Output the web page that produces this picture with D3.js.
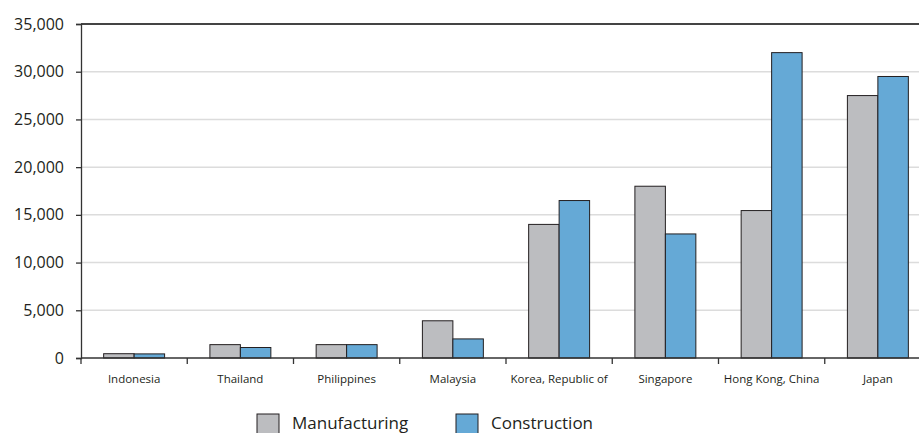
<!DOCTYPE html>
<html><head><meta charset="utf-8">
<script src="https://cdn.jsdelivr.net/npm/d3@7"></script>
<style>body{margin:0;background:#fff;} svg{display:block;}</style>
</head><body>
<svg id="chart" width="919" height="433"></svg>
<script>
const categories = ["Indonesia","Thailand","Philippines","Malaysia","Korea, Republic of","Singapore","Hong Kong, China","Japan"];
const seriesNames = ["Manufacturing","Construction"];
const manufacturing = [450,1400,1400,3900,14000,18000,15450,27500];
const construction = [430,1100,1400,2000,16500,13000,32000,29500];
const yTicks = [0,5000,10000,15000,20000,25000,30000,35000];
const colors = ["#bcbdc0","#65a9d6"];

(function(){
const svg = d3.select("#chart");
const mLeft = 81, mRight = 931, mTop = 24, mBottom = 358;
const font = "'Open Sans', sans-serif";

const x0 = d3.scaleBand().domain(categories).range([mLeft, mRight]).paddingInner(0).paddingOuter(0);
const x1 = d3.scaleBand().domain(seriesNames).range([0, x0.bandwidth()]).paddingInner(0).paddingOuter(0.743);
const y = d3.scaleLinear().domain([0,35000]).range([mBottom, mTop]);

svg.append("g").selectAll("line").data(yTicks.filter(d => d>0 && d<35000)).join("line")
  .attr("x1", mLeft).attr("x2", 919).attr("y1", d=>y(d)).attr("y2", d=>y(d))
  .attr("stroke", "#dcdcdc").attr("stroke-width", 1.5);
svg.append("line").attr("x1", mLeft).attr("x2", 919).attr("y1", y(35000)).attr("y2", y(35000))
  .attr("stroke", "#444").attr("stroke-width", 1.8);

const data = categories.map((c,i)=>({cat:c, vals:[{s:seriesNames[0], v:manufacturing[i]},{s:seriesNames[1], v:construction[i]}]}));
const g = svg.append("g").selectAll("g").data(data).join("g").attr("transform", d=>`translate(${x0(d.cat)},0)`);
g.selectAll("rect").data(d=>d.vals).join("rect")
  .attr("x", d=>x1(d.s)).attr("width", x1.bandwidth())
  .attr("y", d=>y(d.v)).attr("height", d=>y(0)-y(d.v))
  .attr("fill", (d,i)=>colors[i]).attr("stroke", "#231f20").attr("stroke-width", 1);

const yAxis = svg.append("g").attr("transform", `translate(${mLeft},0)`)
  .call(d3.axisLeft(y).tickValues(yTicks).tickSize(5).tickPadding(12).tickFormat(d3.format(",")));
yAxis.select(".domain").attr("stroke", "#333").attr("stroke-width", 1.3);
yAxis.selectAll(".tick line").attr("stroke", "#333").attr("stroke-width", 1.3);
yAxis.selectAll("text").attr("font-family", font).attr("font-size", 16).attr("fill", "#231f20");

const xAxis = svg.append("g").attr("transform", `translate(0,${mBottom})`)
  .call(d3.axisBottom(x0).tickSize(0).tickPadding(17));
xAxis.select(".domain").remove();
svg.append("line").attr("x1", mLeft).attr("x2", 919).attr("y1", mBottom).attr("y2", mBottom)
  .attr("stroke", "#333").attr("stroke-width", 1.5);
svg.append("g").selectAll("line").data(categories).join("line")
  .attr("x1", d=>x0(d)).attr("x2", d=>x0(d)).attr("y1", mBottom).attr("y2", mBottom+6)
  .attr("stroke", "#333").attr("stroke-width", 1.3);
xAxis.selectAll("text").attr("font-family", font).attr("font-size", 11.5).attr("fill", "#231f20");

const legendX = [257, 456];
const lg = svg.append("g").selectAll("g").data(seriesNames).join("g")
  .attr("transform", (d,i)=>`translate(${legendX[i]},414)`);
lg.append("rect").attr("width", 22).attr("height", 22).attr("fill", (d,i)=>colors[i]).attr("stroke", "#231f20").attr("stroke-width", 1);
lg.append("text").attr("x", 35).attr("y", 14.5).text(d=>d)
  .attr("font-family", font).attr("font-size", 17).attr("fill", "#231f20");
})();
</script>
</body></html>
